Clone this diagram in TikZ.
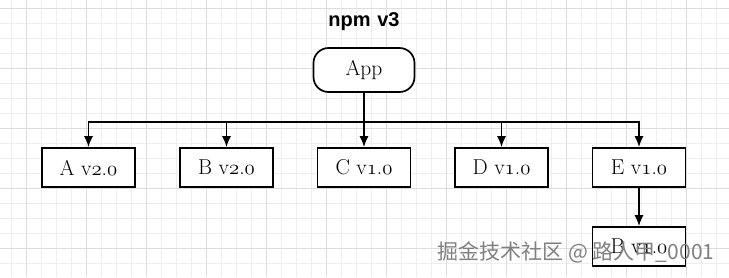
\documentclass[tikz,border=0pt]{standalone}
\usepackage{fontspec}
\usepackage{tikz}
\usetikzlibrary{positioning,arrows.meta,calc}
\newfontfamily\titlefont{Liberation Sans}
\newfontfamily\cjkfont{Noto Sans CJK SC}
\definecolor{gridminor}{HTML}{EEEEEE}
\definecolor{gridmajor}{HTML}{DDDDDD}
% old-style figures from the math italic font
\newcommand\osn[1]{{\usefont{OML}{cmm}{m}{it}#1}}
\newcommand\ver[2]{v\osn{#1}.\osn{#2}}

\begin{document}
\begin{tikzpicture}[
  x=1pt,y=-1pt,
  pkg/.style={draw,line width=1.7pt,fill=white,minimum width=93pt,minimum height=39pt,inner sep=0pt,font=\fontsize{21.5}{24}\selectfont},
  root/.style={pkg,rounded corners=15pt,minimum width=101pt,minimum height=44pt},
  link/.style={line width=1.6pt,-{Latex[length=11pt,width=9pt]}}
]
\useasboundingbox (0,0) rectangle (729,277);
\fill[white] (0,0) rectangle (729,277);

% background grid
\foreach \k in {0,...,47} \draw[gridminor,line width=0.8pt] (11.7+15*\k,0) -- (11.7+15*\k,277);
\foreach \k in {0,...,18} \draw[gridminor,line width=0.8pt] (0,8.3+15*\k) -- (729,8.3+15*\k);
\foreach \k in {0,...,11} \draw[gridmajor,line width=0.8pt] (26.7+60*\k,0) -- (26.7+60*\k,277);
\foreach \k in {0,...,4} \draw[gridmajor,line width=0.8pt] (0,8.3+60*\k) -- (729,8.3+60*\k);

\node[font=\titlefont\bfseries\fontsize{20}{22}\selectfont] (title) at (364,22) {npm\,\,v3};
\node[root] (app) at (364,70) {App};

\node[pkg] (a) at (88.5,167.5) {A \ver{2}{0}};
\node[pkg] (b) at (226.5,167.5) {B \ver{2}{0}};
\node[pkg] (c) at (364,167.5) {C \ver{1}{0}};
\node[pkg] (d) at (501.5,167.5) {D \ver{1}{0}};
\node[pkg] (e) at (639,167.5) {E \ver{1}{0}};
\node[pkg] (b1) at (639,246.5) {B \ver{1}{0}};

% dependency links
\coordinate (bus) at ($(app.south)+(0,29)$);
\foreach \n in {a,b,c,d,e}
  \draw[link] (app.south) -- (bus) -| (\n.north);
\draw[link] (e) -- (b1);

\node[font=\cjkfont\fontsize{21}{23}\selectfont,text=black!50] (mark) at (576,252) {掘金技术社区 @ 路人甲\_0001};
\end{tikzpicture}
\end{document}
